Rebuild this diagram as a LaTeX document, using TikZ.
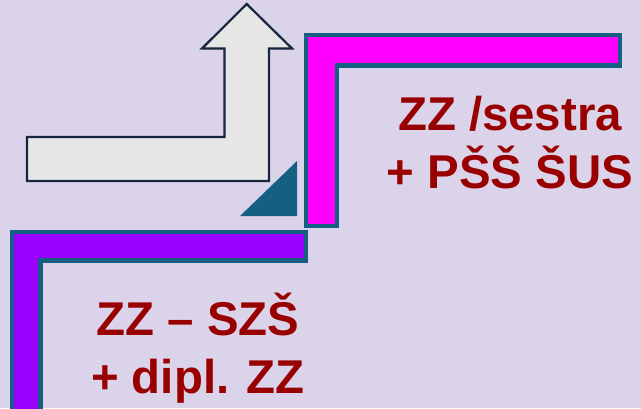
\documentclass[tikz,border=0pt]{standalone}
\usepackage{fontspec}
\setmainfont{Liberation Sans}
\usepackage{xcolor}

\definecolor{bgviolet}{RGB}{218,211,233}
\definecolor{stepedge}{RGB}{21,96,130}
\definecolor{lowstep}{RGB}{153,0,255}
\definecolor{highstep}{RGB}{255,0,255}
\definecolor{arrowfill}{RGB}{231,230,230}
\definecolor{arrowedge}{RGB}{22,38,62}
\definecolor{textred}{RGB}{153,0,0}

\begin{document}
\begin{tikzpicture}
		[x=0.5pt,y=-0.5pt,line join=miter,
		%Styles
		step shape/.style={draw=stepedge,line width=2.1pt},
		turn arrow/.style={fill=arrowfill,draw=arrowedge,line width=1.1pt},
		level text/.style={anchor=base,text=textred,inner sep=0pt,
			font=\bfseries\fontsize{23.7}{28.8}\selectfont}
		]
		
		%Background
		\fill[bgviolet] (0,0) rectangle (641,408);
		\useasboundingbox (0,0) rectangle (641,408);
		
		%Steps
		\draw[step shape,fill=lowstep] (12,420) -- (12,232) -- (306,232) -- (306,260.5)
			-- (40.5,260.5) -- (40.5,420) -- cycle;
		\draw[step shape,fill=highstep] (306,226) -- (306,35.3) -- (619.7,35.3) -- (619.7,65.5)
			-- (337,65.5) -- (337,226) -- cycle;
		
		%Corner
		\fill[stepedge] (240,216) -- (297,216) -- (297,161) -- cycle;
		
		%Arrow
		\draw[turn arrow] (27,137) -- (224.5,137) -- (224.5,48.5) -- (202,48.5) -- (246.7,4)
			-- (292,48.5) -- (269,48.5) -- (269,181) -- (27,181) -- cycle;
		
		%Texts
		\node[level text] (sestra) at (510,130.7) {ZZ /sestra};
		\node[level text] (pss) at (510,188.3) {+ PŠŠ ŠUS};
		\node[level text] (szs) at (198,335) {ZZ – SZŠ};
		\node[level text] (dipl) at (198,393) {+ dipl. ZZ};
	\end{tikzpicture}
\end{document}
